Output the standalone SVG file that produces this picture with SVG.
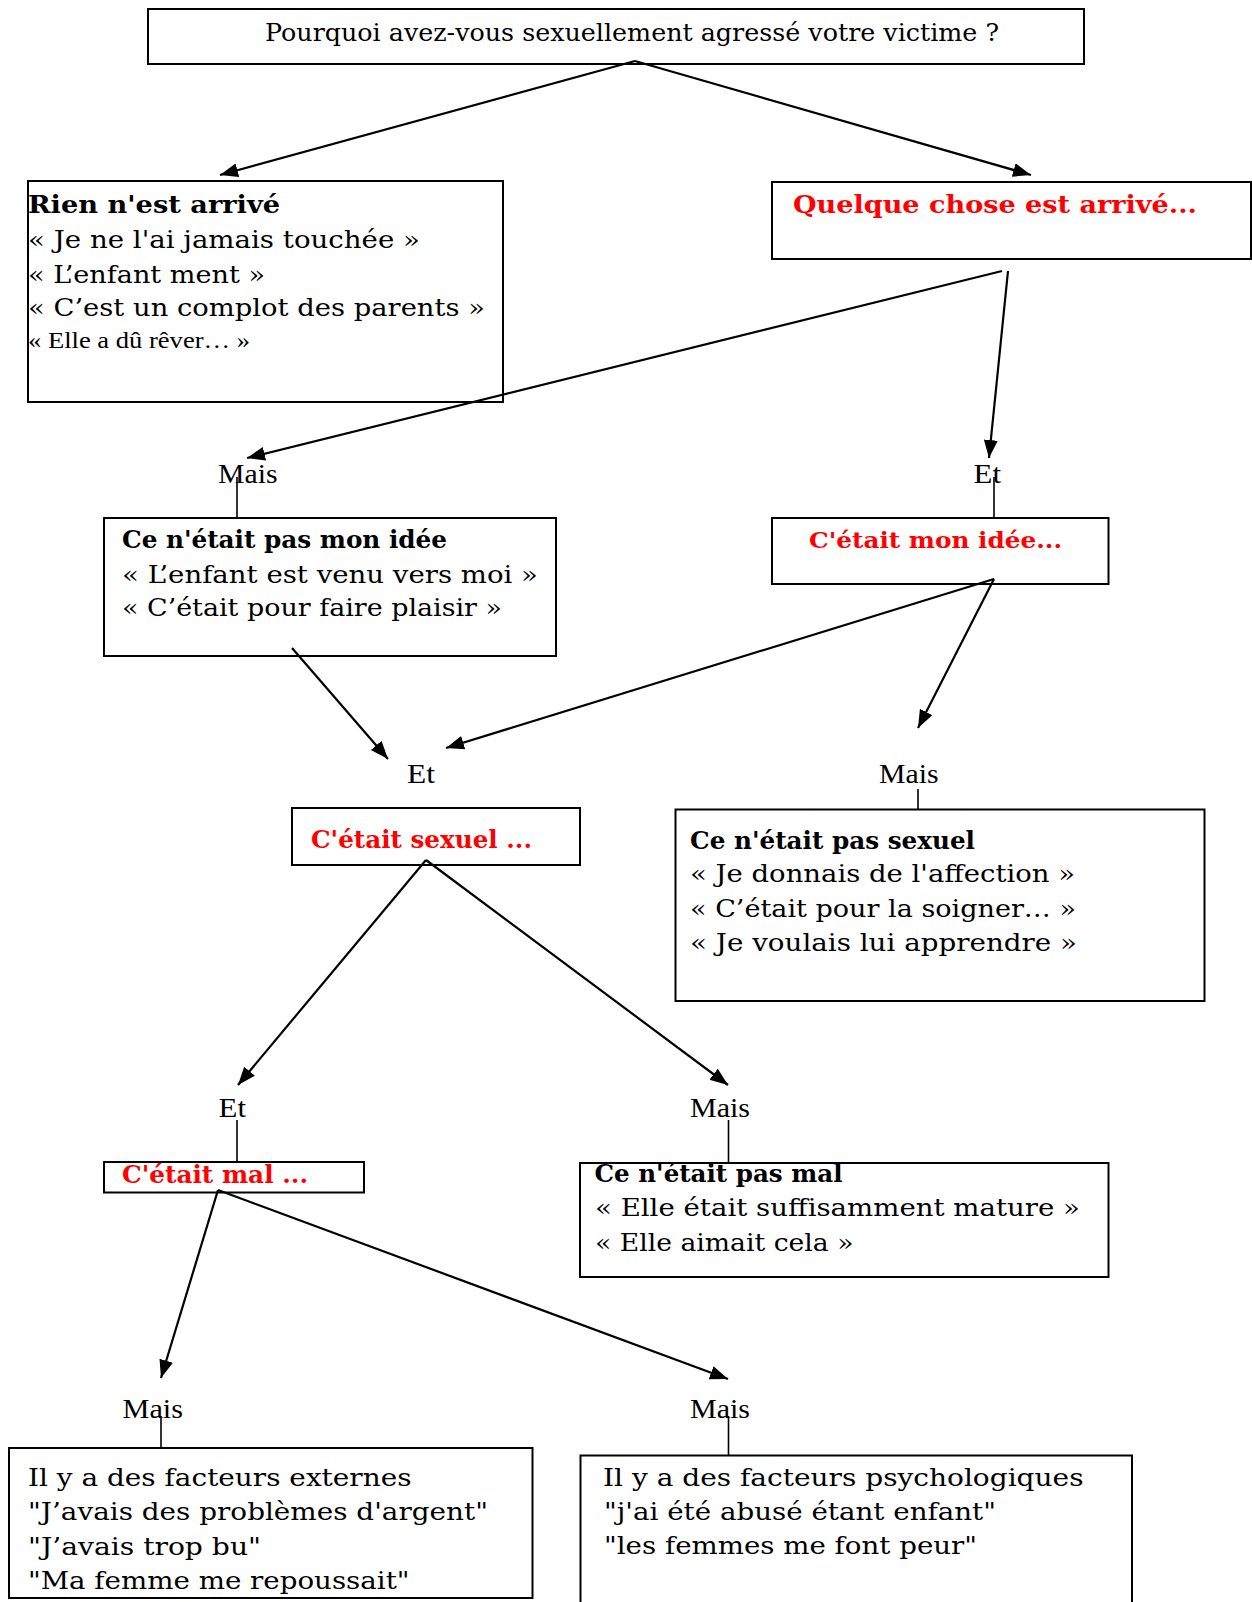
<svg xmlns="http://www.w3.org/2000/svg" width="1252" height="1602" viewBox="0 0 1252 1602">
<style>
.box{fill:#fff;stroke:#000;stroke-width:2}
.t{font-family:"DejaVu Serif","Liberation Serif",serif;font-size:25px;fill:#000}
.b{font-weight:bold;font-size:24px}
.r{fill:#ff0000;font-weight:bold;font-size:24px}
.tm{font-family:"Liberation Serif",serif;font-size:23px;fill:#000}
.lab{font-family:"Liberation Serif",serif;font-size:27px;fill:#000}
.c{stroke:#000;stroke-width:2.2;fill:none}
.a{marker-end:url(#ah)}
.v{stroke:#000;stroke-width:1.6;fill:none}
</style>
<defs>
<marker id="ah" markerUnits="userSpaceOnUse" markerWidth="20" markerHeight="16" refX="18" refY="7" orient="auto">
<path d="M0,0 L18,7 L0,14 z" fill="#000"/>
</marker>
</defs>

<g id="question">
<rect class="box" x="148" y="9" width="936" height="55"/>
<text class="t" x="265" y="41" textLength="734" lengthAdjust="spacingAndGlyphs" style="font-size:24px">Pourquoi avez-vous sexuellement agressé votre victime ?</text>
</g>

<g id="rien">
<rect class="box" x="28" y="181" width="475" height="221"/>
<text class="t b" x="28" y="213" textLength="252" lengthAdjust="spacingAndGlyphs">Rien n'est arrivé</text>
<text class="t" x="28" y="248" textLength="392" lengthAdjust="spacingAndGlyphs">« Je ne l'ai jamais touchée »</text>
<text class="t" x="28" y="283" textLength="237" lengthAdjust="spacingAndGlyphs">« L’enfant ment »</text>
<text class="t" x="28" y="316" textLength="457" lengthAdjust="spacingAndGlyphs">« C’est un complot des parents »</text>
<text class="tm" x="28" y="348" textLength="222" lengthAdjust="spacingAndGlyphs">« Elle a dû rêver… »</text>
</g>

<g id="quelque">
<rect class="box" x="772" y="182" width="479" height="77"/>
<text class="t r" x="793" y="213" textLength="404" lengthAdjust="spacingAndGlyphs">Quelque chose est arrivé...</text>
</g>

<g id="label-mais-1"><text class="lab" x="218" y="483" textLength="59.5" lengthAdjust="spacingAndGlyphs">Mais</text></g>
<g id="label-et-1"><text class="lab" x="973.5" y="483" textLength="27.5" lengthAdjust="spacingAndGlyphs">Et</text></g>

<g id="pas-mon-idee">
<rect class="box" x="104" y="518" width="452" height="138"/>
<text class="t b" x="122" y="548" textLength="325" lengthAdjust="spacingAndGlyphs">Ce n'était pas mon idée</text>
<text class="t" x="122" y="583" textLength="416" lengthAdjust="spacingAndGlyphs">« L’enfant est venu vers moi »</text>
<text class="t" x="122" y="616" textLength="380" lengthAdjust="spacingAndGlyphs">« C’était pour faire plaisir »</text>
</g>

<g id="mon-idee">
<rect class="box" x="772" y="518" width="336.5" height="66"/>
<text class="t r" x="809" y="548" textLength="253" lengthAdjust="spacingAndGlyphs" style="font-size:23px">C'était mon idée...</text>
</g>

<g id="label-et-2"><text class="lab" x="407" y="783" textLength="28" lengthAdjust="spacingAndGlyphs">Et</text></g>
<g id="label-mais-2"><text class="lab" x="879" y="783" textLength="59.5" lengthAdjust="spacingAndGlyphs">Mais</text></g>

<g id="sexuel">
<rect class="box" x="292" y="808" width="288" height="57"/>
<text class="t r" x="311" y="848" textLength="221" lengthAdjust="spacingAndGlyphs">C'était sexuel ...</text>
</g>

<g id="pas-sexuel">
<rect class="box" x="675.5" y="809.5" width="529" height="191.5"/>
<text class="t b" x="690" y="849" textLength="285" lengthAdjust="spacingAndGlyphs">Ce n'était pas sexuel</text>
<text class="t" x="690" y="882" textLength="385" lengthAdjust="spacingAndGlyphs">« Je donnais de l'affection »</text>
<text class="t" x="690" y="917" textLength="386" lengthAdjust="spacingAndGlyphs">« C’était pour la soigner… »</text>
<text class="t" x="690" y="951" textLength="387" lengthAdjust="spacingAndGlyphs">« Je voulais lui apprendre »</text>
</g>

<g id="label-et-3"><text class="lab" x="218.5" y="1117" textLength="27.5" lengthAdjust="spacingAndGlyphs">Et</text></g>
<g id="label-mais-3"><text class="lab" x="690" y="1117" textLength="60" lengthAdjust="spacingAndGlyphs">Mais</text></g>

<g id="mal">
<rect class="box" x="104" y="1162" width="260" height="30.5"/>
<text class="t r" x="122" y="1183" textLength="186" lengthAdjust="spacingAndGlyphs">C'était mal ...</text>
</g>

<g id="pas-mal">
<rect class="box" x="580" y="1163" width="528.5" height="114"/>
<text class="t b" x="594.5" y="1182" textLength="248" lengthAdjust="spacingAndGlyphs">Ce n'était pas mal</text>
<text class="t" x="595" y="1216" textLength="485" lengthAdjust="spacingAndGlyphs">« Elle était suffisamment mature »</text>
<text class="t" x="595" y="1251" textLength="258.5" lengthAdjust="spacingAndGlyphs">« Elle aimait cela »</text>
</g>

<g id="label-mais-4"><text class="lab" x="122.5" y="1418" textLength="60.5" lengthAdjust="spacingAndGlyphs">Mais</text></g>
<g id="label-mais-5"><text class="lab" x="690" y="1418" textLength="60" lengthAdjust="spacingAndGlyphs">Mais</text></g>

<g id="externes">
<rect class="box" x="9" y="1448" width="523.5" height="150"/>
<text class="t" x="28" y="1485.5" textLength="383.5" lengthAdjust="spacingAndGlyphs">Il y a des facteurs externes</text>
<text class="t" x="28" y="1520" textLength="460" lengthAdjust="spacingAndGlyphs">"J’avais des problèmes d'argent"</text>
<text class="t" x="28" y="1554.5" textLength="233" lengthAdjust="spacingAndGlyphs">"J’avais trop bu"</text>
<text class="t" x="28" y="1589" textLength="381.5" lengthAdjust="spacingAndGlyphs">"Ma femme me repoussait"</text>
</g>

<g id="psychologiques">
<rect class="box" x="580.5" y="1455.5" width="551.5" height="160"/>
<text class="t" x="603" y="1485.5" textLength="480.5" lengthAdjust="spacingAndGlyphs">Il y a des facteurs psychologiques</text>
<text class="t" x="604" y="1520" textLength="392" lengthAdjust="spacingAndGlyphs">"j'ai été abusé étant enfant"</text>
<text class="t" x="604" y="1553.5" textLength="373" lengthAdjust="spacingAndGlyphs">"les femmes me font peur"</text>
</g>

<g id="connectors">
<line class="c a" x1="635" y1="61" x2="220" y2="175"/>
<line class="c a" x1="635" y1="61" x2="1031" y2="175"/>
<line class="c a" x1="1002" y1="271" x2="247" y2="458"/>
<line class="c a" x1="1008" y1="271" x2="989" y2="458"/>
<line class="c a" x1="292" y1="648" x2="388" y2="759"/>
<line class="c a" x1="994" y1="579" x2="446" y2="748"/>
<line class="c a" x1="994" y1="579" x2="918" y2="728"/>
<line class="c a" x1="426" y1="860" x2="238" y2="1085"/>
<line class="c a" x1="426" y1="860" x2="728" y2="1085"/>
<line class="c a" x1="218" y1="1190" x2="161" y2="1378"/>
<line class="c a" x1="218" y1="1190" x2="728" y2="1379"/>
<line class="v" x1="237" y1="477" x2="237" y2="518"/>
<line class="v" x1="994" y1="477" x2="994" y2="518"/>
<line class="v" x1="918" y1="789" x2="918" y2="809"/>
<line class="v" x1="237" y1="1120" x2="237" y2="1162"/>
<line class="v" x1="728.5" y1="1120" x2="728.5" y2="1163"/>
<line class="v" x1="161" y1="1416" x2="161" y2="1448"/>
<line class="v" x1="728.5" y1="1416" x2="728.5" y2="1455"/>
</g>
</svg>
